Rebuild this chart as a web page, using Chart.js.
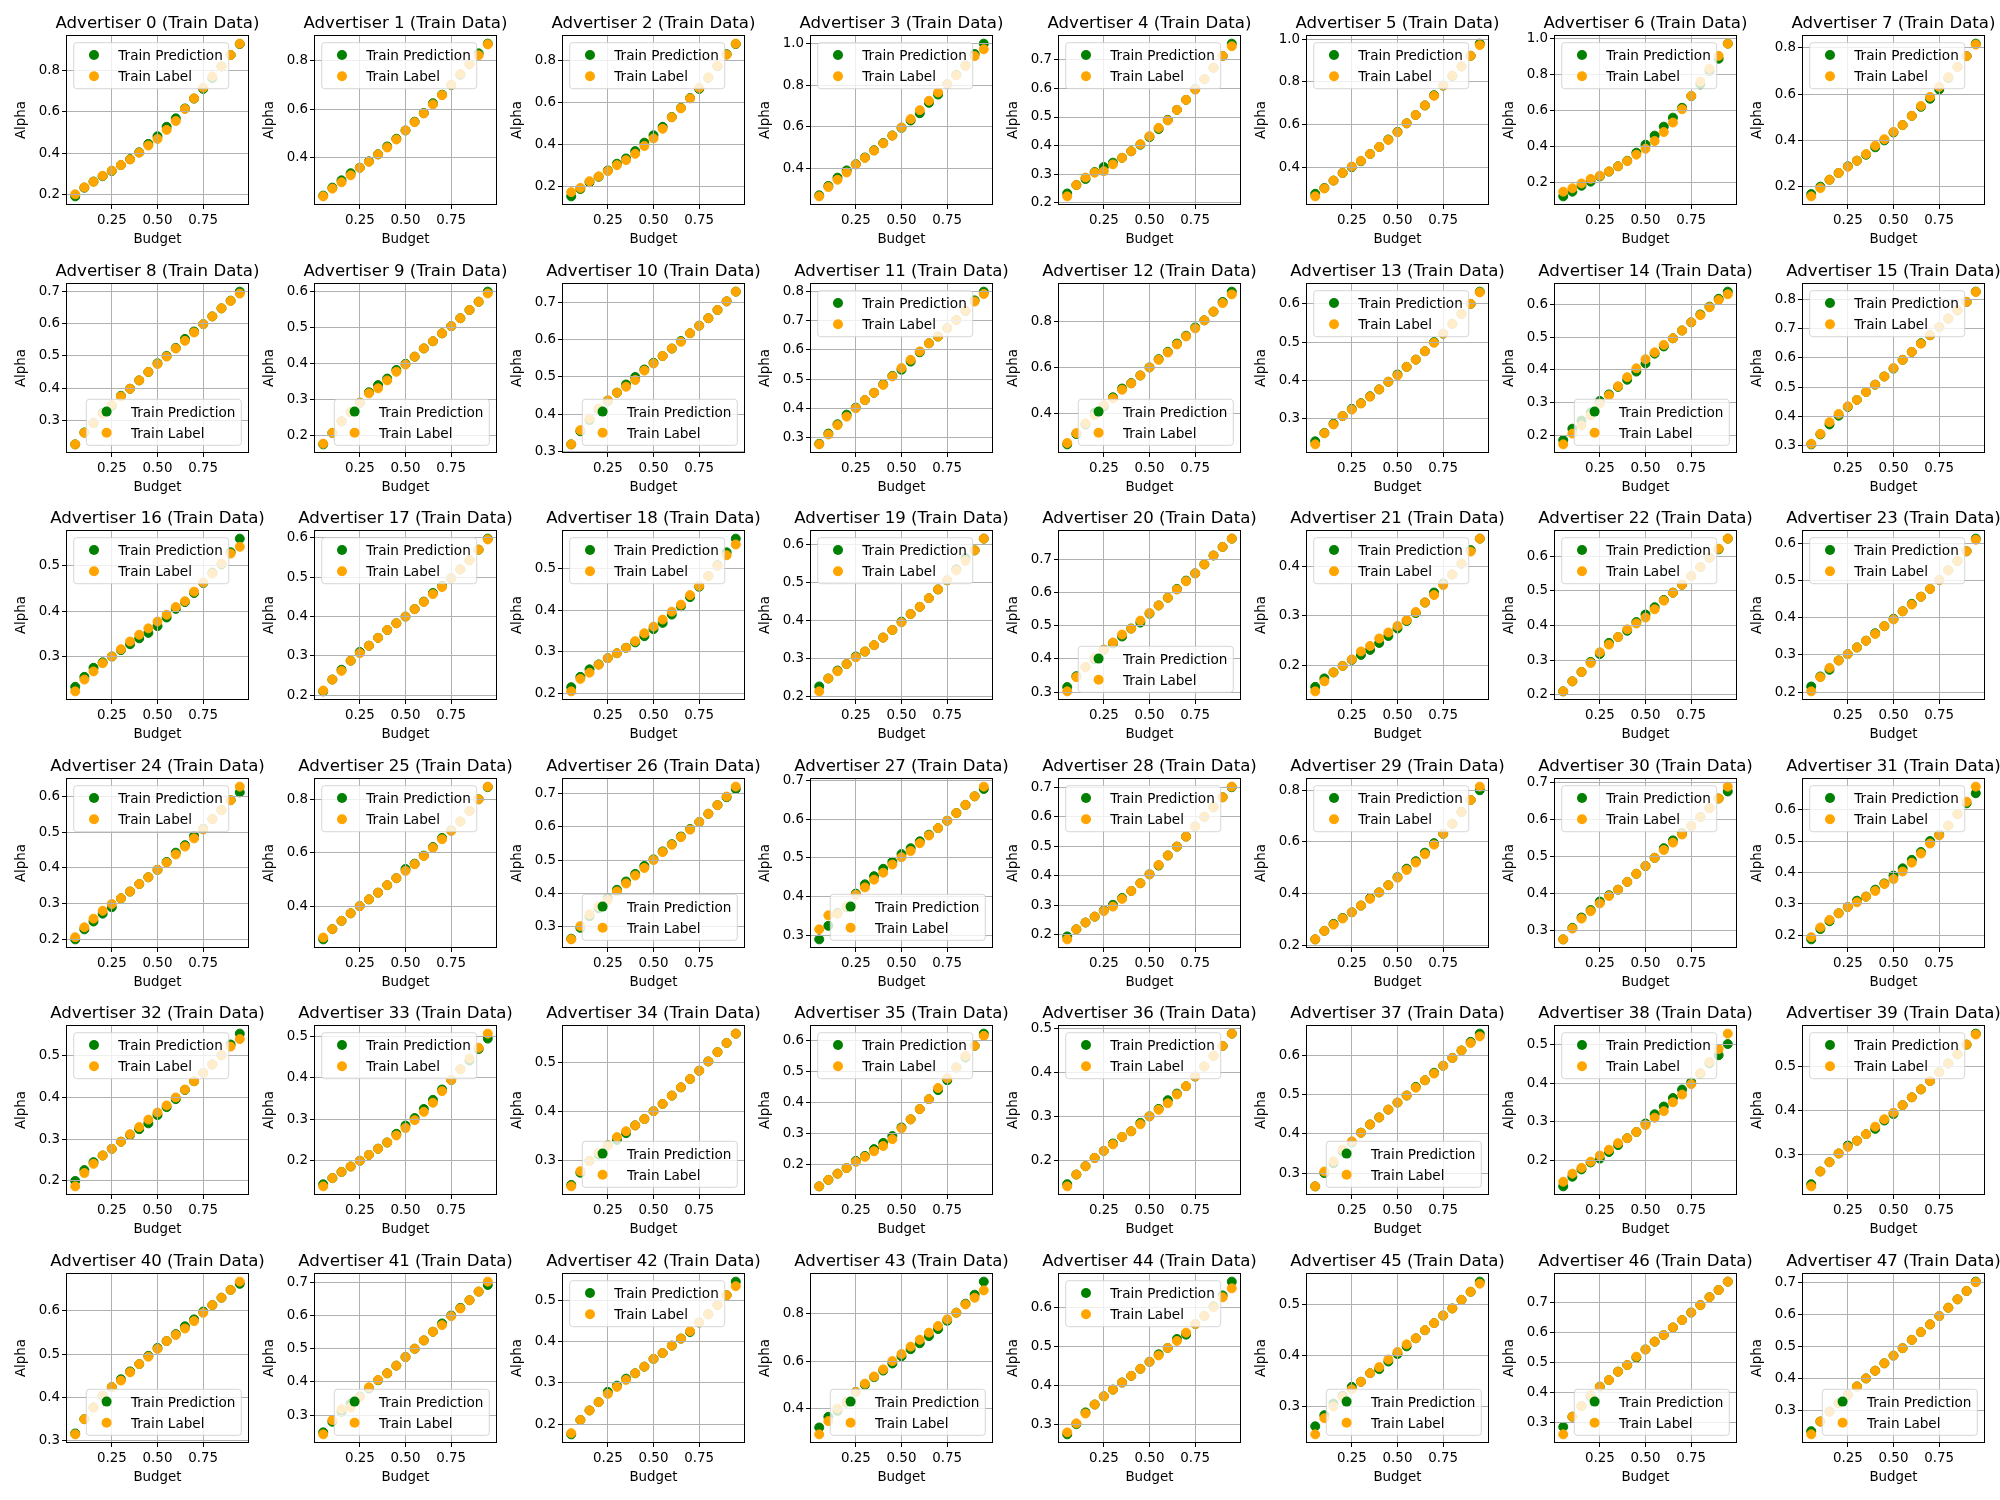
<!DOCTYPE html>
<html><head><meta charset="utf-8">
<script src="https://cdn.jsdelivr.net/npm/chart.js@4.4.1/dist/chart.umd.min.js"></script>
<style>
html,body{margin:0;padding:0;background:#fff;width:2000px;height:1500px;overflow:hidden;position:relative;}
canvas{position:absolute;}
</style></head><body>
<script>
const budgets = [0.05,0.10,0.15,0.20,0.25,0.30,0.35,0.40,0.45,0.50,0.55,0.60,0.65,0.70,0.75,0.80,0.85,0.90,0.95];
const xTickValues = [0.25, 0.50, 0.75];
const seriesNames = ['Train Prediction', 'Train Label'];

const trainLabel = [
[0.200,0.234,0.261,0.290,0.315,0.342,0.369,0.402,0.437,0.469,0.513,0.556,0.615,0.666,0.718,0.773,0.821,0.877,0.932],
[0.242,0.274,0.300,0.329,0.359,0.384,0.414,0.443,0.476,0.513,0.547,0.583,0.620,0.658,0.701,0.745,0.785,0.822,0.867],
[0.175,0.195,0.227,0.250,0.275,0.303,0.327,0.357,0.394,0.430,0.476,0.530,0.573,0.620,0.670,0.720,0.775,0.827,0.880],
[0.265,0.310,0.345,0.380,0.418,0.450,0.485,0.520,0.557,0.597,0.637,0.680,0.725,0.765,0.805,0.848,0.893,0.940,0.973],
[0.222,0.262,0.288,0.305,0.310,0.334,0.357,0.380,0.405,0.433,0.462,0.488,0.525,0.560,0.596,0.633,0.673,0.714,0.748],
[0.263,0.300,0.337,0.373,0.403,0.430,0.462,0.495,0.528,0.564,0.606,0.645,0.690,0.735,0.783,0.830,0.873,0.923,0.973],
[0.148,0.167,0.194,0.219,0.237,0.261,0.289,0.318,0.354,0.387,0.430,0.480,0.533,0.607,0.681,0.761,0.833,0.904,0.972],
[0.158,0.194,0.230,0.259,0.286,0.312,0.341,0.377,0.405,0.437,0.466,0.506,0.549,0.588,0.631,0.674,0.717,0.764,0.814],
[0.225,0.261,0.292,0.320,0.348,0.374,0.398,0.424,0.450,0.475,0.498,0.523,0.547,0.573,0.599,0.623,0.648,0.671,0.694],
[0.177,0.207,0.239,0.265,0.291,0.317,0.331,0.353,0.377,0.397,0.419,0.442,0.462,0.484,0.504,0.526,0.549,0.572,0.595],
[0.320,0.358,0.389,0.416,0.438,0.458,0.474,0.492,0.517,0.536,0.556,0.576,0.594,0.617,0.637,0.657,0.679,0.702,0.728],
[0.276,0.310,0.342,0.371,0.400,0.428,0.453,0.480,0.509,0.538,0.566,0.595,0.623,0.646,0.675,0.703,0.734,0.766,0.792],
[0.271,0.314,0.357,0.393,0.436,0.465,0.503,0.530,0.565,0.600,0.633,0.665,0.700,0.735,0.770,0.805,0.843,0.880,0.918],
[0.232,0.261,0.284,0.306,0.323,0.339,0.357,0.376,0.396,0.413,0.435,0.454,0.476,0.498,0.522,0.548,0.574,0.600,0.630],
[0.172,0.205,0.230,0.261,0.297,0.322,0.350,0.378,0.405,0.433,0.454,0.477,0.497,0.521,0.546,0.568,0.592,0.614,0.632],
[0.306,0.340,0.380,0.408,0.434,0.456,0.483,0.508,0.536,0.565,0.593,0.620,0.648,0.677,0.705,0.734,0.762,0.791,0.825],
[0.223,0.249,0.267,0.285,0.300,0.316,0.333,0.348,0.362,0.377,0.392,0.409,0.422,0.443,0.463,0.483,0.505,0.527,0.542],
[0.212,0.240,0.262,0.288,0.307,0.326,0.346,0.366,0.383,0.400,0.419,0.437,0.457,0.475,0.497,0.520,0.543,0.570,0.596],
[0.205,0.235,0.250,0.269,0.285,0.297,0.310,0.326,0.345,0.361,0.378,0.397,0.414,0.437,0.459,0.483,0.507,0.533,0.559],
[0.213,0.247,0.266,0.285,0.303,0.318,0.335,0.355,0.375,0.395,0.417,0.436,0.459,0.482,0.506,0.532,0.557,0.585,0.616],
[0.302,0.345,0.375,0.403,0.428,0.450,0.474,0.492,0.516,0.539,0.562,0.585,0.610,0.635,0.659,0.686,0.713,0.739,0.764],
[0.149,0.169,0.187,0.200,0.213,0.229,0.240,0.255,0.267,0.280,0.292,0.308,0.327,0.342,0.362,0.383,0.405,0.429,0.455],
[0.210,0.239,0.266,0.292,0.323,0.345,0.367,0.389,0.406,0.423,0.447,0.472,0.495,0.518,0.543,0.569,0.596,0.622,0.651],
[0.202,0.240,0.265,0.285,0.302,0.320,0.338,0.356,0.377,0.395,0.417,0.435,0.456,0.477,0.501,0.527,0.552,0.578,0.609],
[0.206,0.234,0.258,0.280,0.299,0.315,0.334,0.355,0.374,0.395,0.415,0.438,0.460,0.483,0.508,0.537,0.562,0.590,0.628],
[0.285,0.316,0.347,0.375,0.402,0.427,0.452,0.480,0.506,0.533,0.558,0.588,0.619,0.651,0.682,0.717,0.756,0.800,0.847],
[0.260,0.300,0.336,0.360,0.379,0.405,0.429,0.453,0.476,0.500,0.524,0.546,0.569,0.592,0.615,0.640,0.666,0.692,0.722],
[0.316,0.352,0.356,0.375,0.405,0.424,0.444,0.462,0.483,0.502,0.518,0.538,0.558,0.577,0.596,0.616,0.637,0.659,0.684],
[0.185,0.219,0.242,0.262,0.281,0.296,0.322,0.349,0.375,0.405,0.437,0.469,0.499,0.533,0.567,0.600,0.632,0.666,0.702],
[0.222,0.255,0.279,0.303,0.327,0.353,0.379,0.404,0.432,0.461,0.491,0.520,0.552,0.589,0.631,0.670,0.716,0.762,0.814],
[0.276,0.305,0.332,0.352,0.373,0.393,0.410,0.431,0.453,0.474,0.496,0.517,0.537,0.559,0.582,0.606,0.630,0.656,0.688],
[0.194,0.225,0.249,0.270,0.290,0.305,0.323,0.341,0.363,0.379,0.403,0.431,0.460,0.492,0.518,0.549,0.586,0.625,0.673],
[0.187,0.219,0.241,0.261,0.277,0.294,0.312,0.329,0.347,0.364,0.381,0.400,0.419,0.439,0.459,0.479,0.501,0.522,0.540],
[0.138,0.158,0.173,0.186,0.200,0.214,0.229,0.244,0.261,0.279,0.298,0.318,0.340,0.368,0.395,0.421,0.447,0.473,0.507],
[0.247,0.278,0.299,0.316,0.331,0.348,0.360,0.372,0.385,0.401,0.416,0.433,0.450,0.467,0.484,0.503,0.522,0.541,0.560],
[0.130,0.151,0.171,0.189,0.209,0.225,0.243,0.260,0.282,0.317,0.346,0.379,0.411,0.447,0.478,0.513,0.550,0.583,0.615],
[0.140,0.167,0.186,0.205,0.221,0.236,0.253,0.266,0.282,0.300,0.315,0.330,0.350,0.369,0.391,0.414,0.438,0.461,0.489],
[0.266,0.304,0.330,0.360,0.381,0.403,0.424,0.442,0.462,0.480,0.498,0.518,0.537,0.554,0.574,0.594,0.613,0.632,0.649],
[0.145,0.166,0.181,0.197,0.213,0.228,0.245,0.258,0.274,0.292,0.311,0.328,0.351,0.371,0.398,0.427,0.456,0.489,0.529],
[0.227,0.261,0.282,0.302,0.317,0.331,0.346,0.363,0.380,0.395,0.412,0.430,0.448,0.467,0.487,0.507,0.528,0.550,0.573],
[0.315,0.350,0.377,0.404,0.424,0.439,0.458,0.477,0.494,0.512,0.530,0.544,0.559,0.576,0.595,0.613,0.630,0.648,0.667],
[0.242,0.285,0.318,0.323,0.354,0.384,0.406,0.426,0.449,0.475,0.500,0.525,0.551,0.571,0.598,0.621,0.646,0.672,0.702],
[0.178,0.210,0.233,0.253,0.273,0.290,0.307,0.323,0.339,0.358,0.372,0.390,0.407,0.425,0.446,0.466,0.488,0.512,0.534],
[0.291,0.347,0.400,0.428,0.470,0.505,0.535,0.565,0.600,0.630,0.661,0.690,0.720,0.748,0.776,0.804,0.839,0.867,0.898],
[0.281,0.304,0.329,0.352,0.373,0.390,0.408,0.425,0.443,0.461,0.477,0.496,0.514,0.535,0.557,0.578,0.600,0.625,0.648],
[0.244,0.276,0.299,0.318,0.333,0.348,0.365,0.377,0.392,0.407,0.422,0.434,0.450,0.464,0.479,0.493,0.510,0.526,0.542],
[0.260,0.319,0.354,0.391,0.419,0.441,0.469,0.491,0.519,0.543,0.569,0.591,0.616,0.641,0.666,0.691,0.717,0.741,0.769],
[0.227,0.267,0.298,0.324,0.350,0.376,0.401,0.425,0.448,0.472,0.495,0.521,0.545,0.569,0.595,0.621,0.647,0.673,0.700]
];

const trainPrediction = [
[0.190,0.232,0.262,0.288,0.313,0.342,0.371,0.404,0.445,0.482,0.528,0.569,0.617,0.665,0.712,0.765,0.821,0.877,0.930],
[0.245,0.278,0.308,0.337,0.360,0.386,0.415,0.447,0.479,0.513,0.549,0.585,0.625,0.660,0.700,0.742,0.785,0.830,0.870],
[0.155,0.190,0.222,0.248,0.278,0.310,0.335,0.370,0.410,0.445,0.485,0.532,0.575,0.622,0.665,0.718,0.773,0.830,0.878],
[0.270,0.315,0.355,0.390,0.420,0.452,0.487,0.522,0.558,0.595,0.630,0.665,0.715,0.755,0.805,0.850,0.895,0.950,1.000],
[0.232,0.262,0.283,0.307,0.325,0.340,0.357,0.380,0.403,0.430,0.458,0.490,0.525,0.560,0.598,0.633,0.673,0.714,0.757],
[0.275,0.302,0.337,0.373,0.400,0.428,0.462,0.495,0.530,0.566,0.606,0.645,0.690,0.738,0.783,0.828,0.873,0.923,0.980],
[0.122,0.148,0.181,0.204,0.233,0.260,0.290,0.320,0.365,0.410,0.460,0.510,0.560,0.615,0.680,0.745,0.820,0.888,0.972],
[0.168,0.200,0.230,0.259,0.288,0.312,0.338,0.370,0.400,0.434,0.466,0.506,0.545,0.580,0.620,0.670,0.717,0.764,0.818],
[0.225,0.262,0.292,0.323,0.345,0.376,0.398,0.424,0.450,0.477,0.500,0.525,0.553,0.576,0.599,0.623,0.648,0.672,0.700],
[0.175,0.207,0.239,0.265,0.291,0.320,0.340,0.358,0.382,0.399,0.419,0.442,0.462,0.484,0.504,0.526,0.549,0.572,0.600],
[0.320,0.355,0.385,0.414,0.436,0.458,0.480,0.500,0.520,0.538,0.556,0.576,0.596,0.617,0.637,0.657,0.679,0.702,0.728],
[0.278,0.313,0.345,0.378,0.402,0.428,0.453,0.482,0.511,0.532,0.560,0.592,0.623,0.646,0.675,0.703,0.734,0.770,0.800],
[0.265,0.310,0.352,0.403,0.430,0.470,0.508,0.532,0.565,0.600,0.636,0.668,0.704,0.738,0.774,0.805,0.843,0.885,0.930],
[0.240,0.262,0.286,0.306,0.325,0.340,0.358,0.376,0.396,0.415,0.435,0.454,0.476,0.500,0.522,0.548,0.574,0.600,0.632],
[0.185,0.220,0.245,0.270,0.305,0.325,0.348,0.370,0.395,0.420,0.450,0.472,0.497,0.521,0.546,0.570,0.594,0.618,0.640],
[0.304,0.338,0.372,0.402,0.432,0.456,0.483,0.508,0.536,0.563,0.593,0.620,0.650,0.677,0.705,0.734,0.762,0.791,0.826],
[0.233,0.255,0.275,0.287,0.300,0.314,0.327,0.340,0.352,0.367,0.386,0.405,0.420,0.440,0.462,0.485,0.503,0.530,0.560],
[0.210,0.240,0.265,0.288,0.310,0.326,0.346,0.366,0.383,0.400,0.419,0.438,0.460,0.478,0.497,0.520,0.543,0.570,0.598],
[0.215,0.240,0.258,0.270,0.285,0.297,0.310,0.323,0.338,0.355,0.370,0.390,0.410,0.432,0.457,0.483,0.509,0.540,0.573],
[0.226,0.247,0.268,0.285,0.305,0.318,0.335,0.355,0.375,0.397,0.417,0.436,0.459,0.482,0.506,0.535,0.565,0.585,0.616],
[0.315,0.348,0.375,0.400,0.428,0.447,0.468,0.492,0.510,0.537,0.562,0.585,0.612,0.637,0.659,0.686,0.713,0.739,0.764],
[0.158,0.175,0.187,0.200,0.212,0.222,0.232,0.246,0.260,0.275,0.290,0.306,0.327,0.347,0.365,0.383,0.405,0.432,0.455],
[0.210,0.239,0.266,0.295,0.318,0.350,0.367,0.385,0.410,0.432,0.453,0.474,0.495,0.518,0.543,0.569,0.596,0.620,0.651],
[0.215,0.242,0.260,0.285,0.302,0.320,0.338,0.358,0.377,0.397,0.417,0.437,0.456,0.477,0.501,0.527,0.552,0.578,0.612],
[0.200,0.228,0.250,0.272,0.290,0.315,0.334,0.355,0.374,0.395,0.417,0.443,0.464,0.490,0.510,0.537,0.562,0.590,0.612],
[0.278,0.316,0.347,0.375,0.402,0.427,0.452,0.480,0.506,0.540,0.560,0.590,0.622,0.656,0.684,0.717,0.756,0.800,0.845],
[0.262,0.295,0.330,0.354,0.385,0.410,0.435,0.458,0.482,0.502,0.526,0.548,0.571,0.594,0.615,0.640,0.666,0.690,0.715],
[0.290,0.325,0.358,0.373,0.408,0.432,0.453,0.472,0.490,0.510,0.525,0.543,0.560,0.577,0.596,0.616,0.637,0.659,0.678],
[0.195,0.219,0.242,0.262,0.283,0.302,0.325,0.349,0.375,0.405,0.435,0.469,0.499,0.533,0.567,0.600,0.632,0.666,0.700],
[0.222,0.255,0.282,0.305,0.327,0.353,0.382,0.404,0.432,0.463,0.496,0.525,0.558,0.595,0.631,0.670,0.716,0.762,0.800],
[0.276,0.307,0.335,0.355,0.378,0.395,0.410,0.431,0.453,0.474,0.496,0.522,0.543,0.562,0.582,0.606,0.630,0.656,0.675],
[0.187,0.220,0.245,0.270,0.290,0.310,0.323,0.345,0.365,0.390,0.413,0.440,0.465,0.500,0.520,0.549,0.586,0.620,0.652],
[0.200,0.226,0.245,0.261,0.277,0.294,0.310,0.324,0.338,0.358,0.377,0.396,0.418,0.439,0.459,0.479,0.501,0.527,0.553],
[0.143,0.158,0.173,0.186,0.200,0.214,0.229,0.244,0.265,0.285,0.303,0.325,0.347,0.372,0.395,0.421,0.442,0.470,0.495],
[0.250,0.275,0.299,0.312,0.331,0.342,0.356,0.372,0.385,0.401,0.416,0.433,0.450,0.467,0.484,0.503,0.522,0.541,0.560],
[0.130,0.151,0.171,0.189,0.212,0.228,0.250,0.270,0.292,0.320,0.346,0.379,0.411,0.440,0.472,0.513,0.545,0.583,0.622],
[0.145,0.167,0.186,0.205,0.221,0.238,0.253,0.266,0.285,0.300,0.317,0.337,0.352,0.369,0.391,0.414,0.438,0.461,0.489],
[0.266,0.300,0.325,0.355,0.378,0.403,0.424,0.442,0.462,0.480,0.498,0.520,0.537,0.556,0.574,0.594,0.613,0.635,0.656],
[0.133,0.158,0.177,0.195,0.205,0.222,0.240,0.258,0.274,0.296,0.320,0.340,0.362,0.384,0.403,0.425,0.452,0.473,0.502],
[0.232,0.261,0.282,0.302,0.320,0.331,0.346,0.358,0.377,0.392,0.412,0.430,0.448,0.467,0.487,0.507,0.528,0.550,0.575],
[0.317,0.350,0.377,0.404,0.424,0.442,0.460,0.477,0.496,0.514,0.530,0.546,0.564,0.580,0.598,0.613,0.630,0.648,0.662],
[0.248,0.280,0.310,0.335,0.356,0.380,0.405,0.426,0.449,0.475,0.500,0.525,0.551,0.576,0.600,0.623,0.646,0.672,0.692],
[0.175,0.210,0.233,0.253,0.278,0.293,0.310,0.323,0.339,0.358,0.372,0.390,0.407,0.423,0.446,0.466,0.488,0.512,0.545],
[0.320,0.365,0.390,0.425,0.470,0.500,0.532,0.560,0.590,0.620,0.650,0.675,0.705,0.735,0.770,0.804,0.842,0.880,0.935],
[0.276,0.302,0.332,0.352,0.373,0.390,0.408,0.425,0.443,0.461,0.480,0.496,0.519,0.530,0.557,0.578,0.602,0.630,0.665],
[0.260,0.282,0.305,0.320,0.338,0.348,0.365,0.373,0.388,0.403,0.418,0.434,0.450,0.464,0.479,0.493,0.510,0.526,0.546],
[0.285,0.319,0.354,0.388,0.419,0.441,0.469,0.491,0.516,0.543,0.569,0.591,0.616,0.641,0.666,0.691,0.717,0.741,0.769],
[0.237,0.267,0.298,0.324,0.350,0.376,0.401,0.425,0.448,0.472,0.495,0.521,0.545,0.569,0.595,0.621,0.647,0.673,0.702]
];

// legend placement per advertiser: 'ul' upper left, 'lr' lower right
const legendLoc = [
'ul','ul','ul','ul','ul','ul','ul','ul',
'lr','lr','lr','ul','lr','ul','lr','ul',
'ul','ul','ul','ul','lr','ul','ul','ul',
'ul','ul','lr','lr','ul','ul','ul','ul',
'ul','ul','lr','ul','ul','lr','ul','ul',
'lr','lr','ul','lr','ul','lr','lr','lr'
];

const FAMILY = '"DejaVu Sans", sans-serif';
const F_TICK = 13.4, F_LEG = 13.6, F_TITLE = 16.6;
const COLOR_PRED = '#008000', COLOR_LABEL = '#ffa500';
const CW = 300, CH = 270;       // canvas size
const AX_L = 67, AX_T = 36, AX_W = 181, AX_H = 168;
const COL_PITCH = 248, ROW_PITCH = 247.6;

function niceStep(range) {
  const raw = range / 6;
  const mag = Math.pow(10, Math.floor(Math.log10(raw)));
  for (const s of [1, 2, 2.5, 5, 10]) {
    if (s * mag >= raw - 1e-12) return s * mag;
  }
  return 10 * mag;
}

const framePlugin = {
  id: 'framePlugin',
  afterDraw(chart) {
    const ctx = chart.ctx;
    const a = chart.chartArea;
    const idx = chart.options.plugins.framePlugin.idx;
    ctx.save();
    // spines
    ctx.strokeStyle = '#000';
    ctx.lineWidth = 1;
    ctx.strokeRect(Math.round(a.left) - 0.5, Math.round(a.top) - 0.5, Math.round(a.right - a.left) + 1, Math.round(a.bottom - a.top) + 1);
    // title
    const cx = (a.left + a.right) / 2;
    ctx.fillStyle = '#000';
    ctx.font = F_TITLE + 'px ' + FAMILY;
    ctx.textAlign = 'center';
    ctx.textBaseline = 'alphabetic';
    ctx.fillText('Advertiser ' + idx + ' (Train Data)', cx, a.top - 8);
    // axis labels
    ctx.font = F_TICK + 'px ' + FAMILY;
    ctx.fillText('Budget', cx, a.bottom + 39);
    ctx.save();
    ctx.translate(a.left - 42, (a.top + a.bottom) / 2);
    ctx.rotate(-Math.PI / 2);
    ctx.fillText('Alpha', 0, 0);
    ctx.restore();
    // legend
    ctx.font = F_LEG + 'px ' + FAMILY;
    const tw = ctx.measureText(seriesNames[0]).width;
    const lw = Math.round(44.6 + tw + 5.5), lh = 46;
    const pad = 6.7;
    let lx, ly;
    if (legendLoc[idx] === 'ul') { lx = a.left + pad; ly = a.top + pad; }
    else { lx = a.right - pad - lw; ly = a.bottom - pad - lh; }
    const r = 3;
    ctx.beginPath();
    ctx.moveTo(lx + r, ly);
    ctx.lineTo(lx + lw - r, ly);
    ctx.arcTo(lx + lw, ly, lx + lw, ly + r, r);
    ctx.lineTo(lx + lw, ly + lh - r);
    ctx.arcTo(lx + lw, ly + lh, lx + lw - r, ly + lh, r);
    ctx.lineTo(lx + r, ly + lh);
    ctx.arcTo(lx, ly + lh, lx, ly + lh - r, r);
    ctx.lineTo(lx, ly + r);
    ctx.arcTo(lx, ly, lx + r, ly, r);
    ctx.closePath();
    ctx.fillStyle = 'rgba(255,255,255,0.8)';
    ctx.fill();
    ctx.strokeStyle = 'rgba(204,204,204,0.8)';
    ctx.lineWidth = 1;
    ctx.stroke();
    const rows = [ly + 12.3, ly + 33.5];
    const cols = [COLOR_PRED, COLOR_LABEL];
    ctx.textAlign = 'left';
    for (let i = 0; i < 2; i++) {
      ctx.beginPath();
      ctx.arc(lx + 20.3, rows[i], 5, 0, Math.PI * 2);
      ctx.fillStyle = cols[i];
      ctx.fill();
      ctx.fillStyle = '#000';
      ctx.fillText(seriesNames[i], lx + 44.6, rows[i] + 4.9);
    }
    ctx.restore();
  }
};

for (let k = 0; k < 48; k++) {
  const col = k % 8, row = Math.floor(k / 8);
  const cv = document.createElement('canvas');
  cv.width = CW; cv.height = CH;
  cv.style.width = CW + 'px'; cv.style.height = CH + 'px';
  cv.style.left = (col * COL_PITCH) + 'px';
  cv.style.top = Math.round(row * ROW_PITCH) + 'px';
  document.body.appendChild(cv);

  const lab = trainLabel[k], pred = trainPrediction[k];
  const all = lab.concat(pred);
  const lo = Math.min(...all), hi = Math.max(...all);
  const yMin = lo - 0.05 * (hi - lo), yMax = hi + 0.05 * (hi - lo);
  const step = niceStep(yMax - yMin);
  const yTicks = [];
  for (let t = Math.ceil(yMin / step - 1e-9); t * step <= yMax + 1e-9; t++) yTicks.push(Math.round(t * step * 1000) / 1000);
  const dec = step >= 0.1 && Math.abs(step * 10 - Math.round(step * 10)) < 1e-9 ? 1 : 2;

  const gridOpts = { color: '#b0b0b0', lineWidth: 1, tickColor: '#000', tickLength: 5, tickWidth: 1, drawTicks: true, z: 1 };

  new Chart(cv, {
    type: 'scatter',
    data: {
      datasets: [
        { label: seriesNames[0], data: budgets.map((b, i) => ({ x: b, y: pred[i] })),
          backgroundColor: COLOR_PRED, borderColor: COLOR_PRED, borderWidth: 1, pointRadius: 4.5, order: 1 },
        { label: seriesNames[1], data: budgets.map((b, i) => ({ x: b, y: lab[i] })),
          backgroundColor: COLOR_LABEL, borderColor: COLOR_LABEL, borderWidth: 1, pointRadius: 4.5, order: 0 }
      ]
    },
    options: {
      responsive: false, animation: false, devicePixelRatio: 1, events: [],
      layout: { padding: { top: AX_T, left: 0, right: CW - AX_L - AX_W, bottom: CH - AX_T - AX_H - 44 } },
      scales: {
        x: {
          type: 'linear', min: 0.005, max: 0.995,
          afterBuildTicks: s => { s.ticks = xTickValues.map(v => ({ value: v })); },
          afterFit: s => { s.height = 44; },
          grid: gridOpts,
          border: { display: false },
          ticks: { color: '#000', font: { family: FAMILY, size: F_TICK }, padding: 3, maxRotation: 0, autoSkip: false,
                   callback: v => Number(v).toFixed(2) }
        },
        y: {
          type: 'linear', min: yMin, max: yMax,
          afterBuildTicks: s => { s.ticks = yTicks.map(v => ({ value: v })); },
          afterFit: s => { s.width = AX_L; },
          grid: gridOpts,
          border: { display: false },
          ticks: { color: '#000', font: { family: FAMILY, size: F_TICK }, padding: 2, autoSkip: false,
                   callback: v => Number(v).toFixed(dec) }
        }
      },
      plugins: {
        legend: { display: false }, title: { display: false }, tooltip: { enabled: false },
        framePlugin: { idx: k }
      }
    },
    plugins: [framePlugin]
  });
}
</script>
</body></html>
